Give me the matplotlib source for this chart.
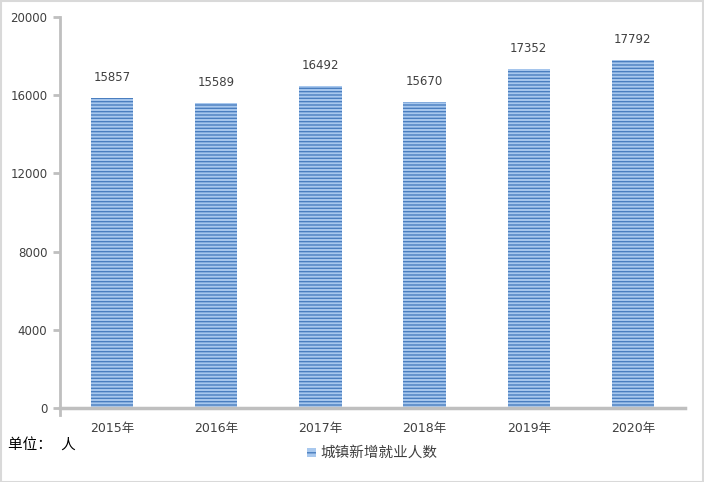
import matplotlib
matplotlib.use("Agg")
import matplotlib.pyplot as plt
from matplotlib.patches import Rectangle

plt.rcParams['font.family'] = ['DejaVu Sans', 'Noto Sans CJK SC']
plt.rcParams['hatch.linewidth'] = 1.0

years = ["2015年", "2016年", "2017年", "2018年", "2019年", "2020年"]
values = [15857, 15589, 16492, 15670, 17352, 17792]
yticks = [0, 4000, 8000, 12000, 16000, 20000]
series_name = "城镇新增就业人数"
unit_text = "单位：  人"

FILL = "#a8c8ee"
LINE = "#4a7ebf"
TEXT = "#404040"
AXIS = "#bfbfbf"

W, H = 704, 482
fig = plt.figure(figsize=(W / 100, H / 100), dpi=100)
ax = fig.add_axes([60 / W, (H - 408) / H, (685 - 60) / W, (408 - 17) / H])

x = list(range(len(years)))
ax.bar(x, values, width=0.405, color=FILL, edgecolor=LINE, linewidth=0,
       hatch="-----", zorder=2)

for xi, v in zip(x, values):
    ax.annotate(f"{v}", (xi, v), xytext=(0, 10), textcoords="offset points",
                ha="center", va="bottom", fontsize=8.5, color=TEXT)

ax.set_xlim(-0.5, len(years) - 0.5)
ax.set_ylim(0, 20000)
ax.set_yticks(yticks)
ax.set_yticklabels([str(t) for t in yticks], fontsize=8.5, color=TEXT)
ax.set_xticks(x)
ax.set_xticklabels(years, fontsize=9, color=TEXT)
ax.tick_params(axis="x", length=0, pad=10)
ax.tick_params(axis="y", length=5, width=2, color=AXIS, pad=4)

for s in ["top", "right"]:
    ax.spines[s].set_visible(False)
ax.spines["left"].set_color(AXIS)
ax.spines["left"].set_linewidth(2)
ax.spines["bottom"].set_color(AXIS)
ax.spines["bottom"].set_linewidth(2.5)
ax.spines["left"].set_bounds(0, 20000)
# y-axis extends a little below the x-axis
ax.plot([-0.5, -0.5], [0, -350], color=AXIS, lw=2, clip_on=False, zorder=3)

# legend
fig.patches.append(Rectangle((307 / W, (H - 457) / H), 9 / W, 9 / H,
                             transform=fig.transFigure, facecolor=FILL,
                             edgecolor=LINE, linewidth=0, hatch="---"))
fig.text(320 / W, (H - 452) / H, series_name, fontsize=10.5, color=TEXT,
         va="center", ha="left")
fig.text(8 / W, (H - 445) / H, unit_text, fontsize=10.5, color="black",
         va="center", ha="left")

# outer border
fig.patches.append(Rectangle((0.5 / W, 0.5 / H), (W - 1.5) / W, (H - 1.5) / H,
                             transform=fig.transFigure, fill=False,
                             edgecolor="#d9d9d9", linewidth=1.5))

fig.savefig("out.png", dpi=100)
